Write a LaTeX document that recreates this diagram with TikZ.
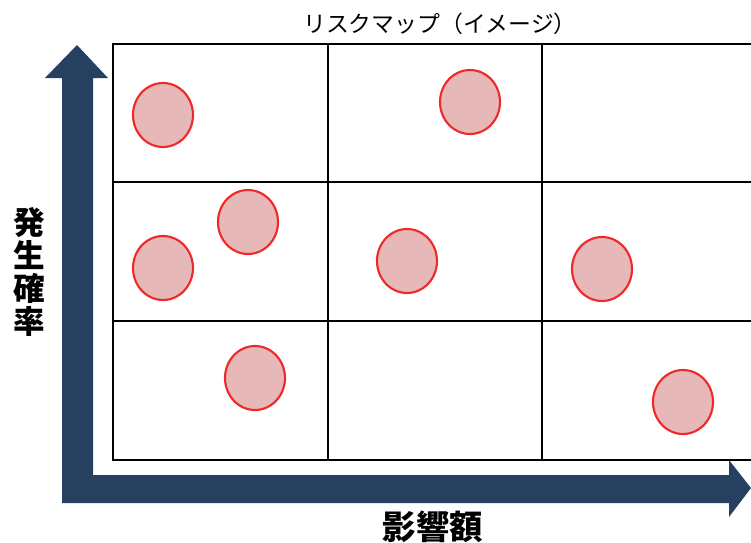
\documentclass[tikz,border=0pt]{standalone}
\usepackage{fontspec}
\setmainfont{Noto Sans CJK JP}
\usetikzlibrary{shapes.geometric}
\definecolor{axisblue}{RGB}{38,64,96}
\definecolor{riskfill}{RGB}{230,184,184}
\definecolor{riskline}{RGB}{240,40,40}
\tikzset{
  risk/.style={ellipse, draw=riskline, fill=riskfill, line width=1.2pt,
    minimum width=1.2cm, minimum height=1.28cm, inner sep=0pt},
  gridline/.style={line width=0.8pt}
}
\begin{document}
\begin{tikzpicture}[x=0.02cm, y=-0.02cm]
        \useasboundingbox (0, 0) rectangle (751, 542);

        \fill[axisblue] (62, 78) -- (45, 78) -- (77, 45) -- (108, 78) -- (93, 78)
            -- (93, 475) -- (729, 475) -- (729, 460) -- (751, 488) -- (729, 517)
            -- (729, 503) -- (62, 503) -- cycle;

        \fill[white] (113, 44) rectangle (751, 460);
        \draw[gridline] (751, 44) -- (113, 44) -- (113, 460) -- (751, 460);
        \draw[gridline] (113, 182) -- (751, 182);
        \draw[gridline] (113, 321) -- (751, 321);
        \draw[gridline] (328, 44) -- (328, 460);
        \draw[gridline] (542, 44) -- (542, 460);

        \node[font=\fontsize{13}{15}\selectfont] (title) at (440, 24) {リスクマップ（イメージ）};
        \node[align=center, font=\fontsize{18}{18.7}\selectfont\bfseries] (prob) at (29, 272)
            {発\\生\\確\\率};
        \node[font=\fontsize{19}{20}\selectfont\bfseries] (impact) at (433, 527) {影響額};

        \node[risk] (r1) at (163, 115) {};
        \node[risk] (r2) at (470, 102) {};
        \node[risk] (r3) at (248, 222) {};
        \node[risk] (r4) at (163, 268) {};
        \node[risk] (r5) at (407, 261) {};
        \node[risk] (r6) at (602, 269) {};
        \node[risk] (r7) at (255, 378) {};
        \node[risk] (r8) at (683, 402) {};

    \end{tikzpicture}
\end{document}
